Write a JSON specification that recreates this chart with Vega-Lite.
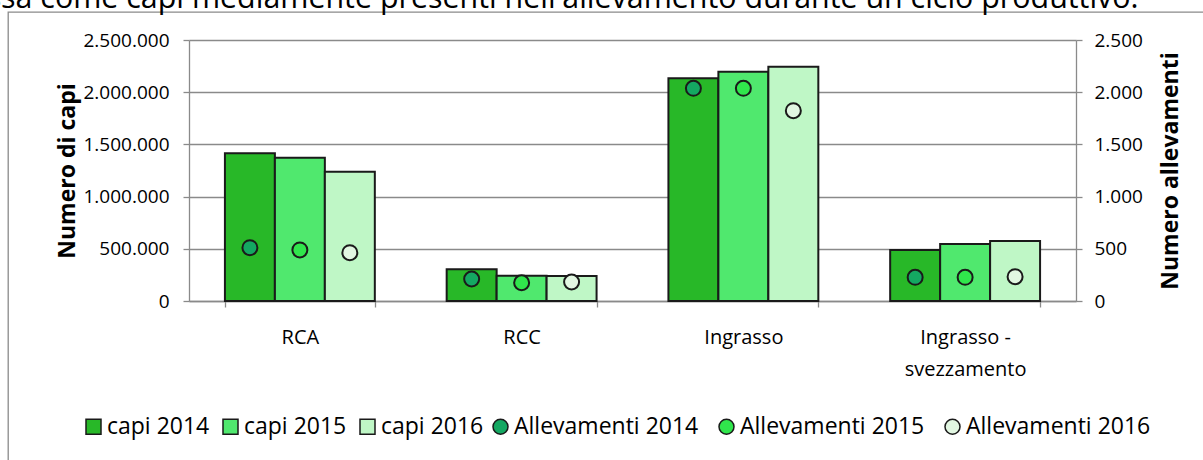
{
  "$schema": "https://vega.github.io/schema/vega-lite/v6.json",
  "width": 1195,
  "height": 448,
  "autosize": {"type": "none"},
  "padding": {"left": 8, "top": 12, "right": 0, "bottom": 0},
  "title": {
    "text": "espressa come capi mediamente presenti nell'allevamento durante un ciclo produttivo.",
    "anchor": "start",
    "frame": "group",
    "orient": "top",
    "dx": -101,
    "dy": 26,
    "offset": 0,
    "baseline": "alphabetic",
    "font": "Open Sans",
    "fontSize": 30.4,
    "fontWeight": "normal",
    "color": "#000000"
  },
  "data": {
    "values": [
      {"categoria": "RCA", "anno": "2014", "capi": 1415000, "allevamenti": 511},
      {"categoria": "RCA", "anno": "2015", "capi": 1373000, "allevamenti": 489},
      {"categoria": "RCA", "anno": "2016", "capi": 1238000, "allevamenti": 463},
      {"categoria": "RCC", "anno": "2014", "capi": 304000, "allevamenti": 211},
      {"categoria": "RCC", "anno": "2015", "capi": 242000, "allevamenti": 175},
      {"categoria": "RCC", "anno": "2016", "capi": 240000, "allevamenti": 182},
      {"categoria": "Ingrasso", "anno": "2014", "capi": 2133000, "allevamenti": 2037},
      {"categoria": "Ingrasso", "anno": "2015", "capi": 2196000, "allevamenti": 2037},
      {"categoria": "Ingrasso", "anno": "2016", "capi": 2244000, "allevamenti": 1823},
      {"categoria": "Ingrasso - svezzamento", "anno": "2014", "capi": 488000, "allevamenti": 227},
      {"categoria": "Ingrasso - svezzamento", "anno": "2015", "capi": 546000, "allevamenti": 227},
      {"categoria": "Ingrasso - svezzamento", "anno": "2016", "capi": 575000, "allevamenti": 233}
    ]
  },
  "layer": [
    {
      "mark": {"type": "bar", "stroke": "#1a1a1a", "strokeWidth": 2},
      "encoding": {
        "x": {
          "field": "categoria",
          "type": "nominal",
          "sort": ["RCA", "RCC", "Ingrasso", "Ingrasso - svezzamento"],
          "scale": {"range": [181, 1068], "paddingInner": 0.324, "paddingOuter": 0.162},
          "axis": {
            "orient": "bottom",
            "offset": -159,
            "title": null,
            "tickBand": "extent",
            "grid": false,
            "domainColor": "#8a8a8a",
            "domainWidth": 1.3,
            "tickColor": "#8a8a8a",
            "tickWidth": 1.3,
            "tickSize": 6,
            "labelAngle": 0,
            "labelPadding": 20,
            "labelFont": "Open Sans",
            "labelFontSize": 20,
            "labelColor": "#000000",
            "labelLineHeight": 32,
            "labelExpr": "datum.value == 'Ingrasso - svezzamento' ? ['Ingrasso -', 'svezzamento'] : datum.label"
          }
        },
        "xOffset": {
          "field": "anno",
          "type": "nominal",
          "scale": {"paddingInner": 0, "paddingOuter": 0}
        },
        "y": {
          "field": "capi",
          "type": "quantitative",
          "scale": {"domain": [0, 2500000], "range": [289, 28], "nice": false},
          "axis": {
            "orient": "left",
            "offset": -181,
            "values": [0, 500000, 1000000, 1500000, 2000000, 2500000],
            "format": ",d",
            "grid": true,
            "gridColor": "#8a8a8a",
            "gridWidth": 1.3,
            "domainColor": "#8a8a8a",
            "domainWidth": 1.3,
            "tickColor": "#8a8a8a",
            "tickWidth": 1.3,
            "tickSize": 6,
            "labelPadding": 14,
            "labelFont": "Open Sans",
            "labelFontSize": 19,
            "labelColor": "#000000",
            "title": "Numero di capi",
            "titleFont": "Open Sans",
            "titleFontSize": 23,
            "titleFontWeight": "bold",
            "titleColor": "#000000",
            "titleAngle": 270,
            "titleX": -122,
            "titleBaseline": "middle",
            "titleAlign": "center"
          }
        },
        "fill": {
          "field": "anno",
          "type": "nominal",
          "scale": {"domain": ["2014", "2015", "2016"], "range": ["#28b828", "#50e86e", "#bff7c6"]},
          "legend": {
            "orient": "none",
            "legendX": 74,
            "legendY": 403,
            "direction": "horizontal",
            "title": null,
            "padding": 0,
            "labelExpr": "'capi ' + datum.label",
            "symbolType": "square",
            "symbolSize": 225,
            "symbolStrokeColor": "#1a1a1a",
            "symbolStrokeWidth": 1.5,
            "labelFont": "Open Sans",
            "labelFontSize": 23,
            "labelColor": "#000000",
            "labelOffset": 2,
            "labelLimit": 400,
            "columnPadding": 9
          }
        }
      }
    },
    {
      "mark": {"type": "point", "shape": "circle", "filled": true, "size": 225, "stroke": "#1a1a1a", "strokeWidth": 2, "opacity": 1},
      "encoding": {
        "x": {"field": "categoria", "type": "nominal", "sort": ["RCA", "RCC", "Ingrasso", "Ingrasso - svezzamento"]},
        "xOffset": {"field": "anno", "type": "nominal"},
        "y": {
          "field": "allevamenti",
          "type": "quantitative",
          "scale": {"domain": [0, 2500], "range": [289, 28], "nice": false},
          "axis": {
            "orient": "right",
            "offset": -127,
            "values": [0, 500, 1000, 1500, 2000, 2500],
            "format": ",d",
            "grid": false,
            "domainColor": "#8a8a8a",
            "domainWidth": 1.3,
            "tickColor": "#8a8a8a",
            "tickWidth": 1.3,
            "tickSize": 6,
            "labelPadding": 12,
            "labelFont": "Open Sans",
            "labelFontSize": 19,
            "labelColor": "#000000",
            "title": "Numero allevamenti",
            "titleFont": "Open Sans",
            "titleFontSize": 23,
            "titleFontWeight": "bold",
            "titleColor": "#000000",
            "titleAngle": 270,
            "titleX": 94,
            "titleBaseline": "middle",
            "titleAlign": "center"
          }
        },
        "fill": {
          "field": "anno",
          "type": "nominal",
          "scale": {"domain": ["2014", "2015", "2016"], "range": ["#14a862", "#30e64c", "#e2f7e2"]},
          "legend": {
            "orient": "none",
            "legendX": 481,
            "legendY": 403,
            "direction": "horizontal",
            "title": null,
            "padding": 0,
            "labelExpr": "'Allevamenti ' + datum.label",
            "symbolType": "circle",
            "symbolSize": 225,
            "symbolStrokeColor": "#1a1a1a",
            "symbolStrokeWidth": 1.5,
            "labelFont": "Open Sans",
            "labelFontSize": 23,
            "labelColor": "#000000",
            "labelOffset": 2,
            "labelLimit": 400,
            "columnPadding": 16
          }
        }
      }
    }
  ],
  "resolve": {
    "scale": {"y": "independent", "fill": "independent"},
    "axis": {"y": "independent"},
    "legend": {"fill": "independent"}
  },
  "config": {
    "locale": {"number": {"decimal": ",", "thousands": ".", "grouping": [3], "currency": ["€", ""]}},
    "background": "#ffffff",
    "view": {"stroke": "#8a8a8a", "strokeWidth": 1.3, "strokeDash": [1195, 1643, 448]},
    "font": "Open Sans"
  }
}
